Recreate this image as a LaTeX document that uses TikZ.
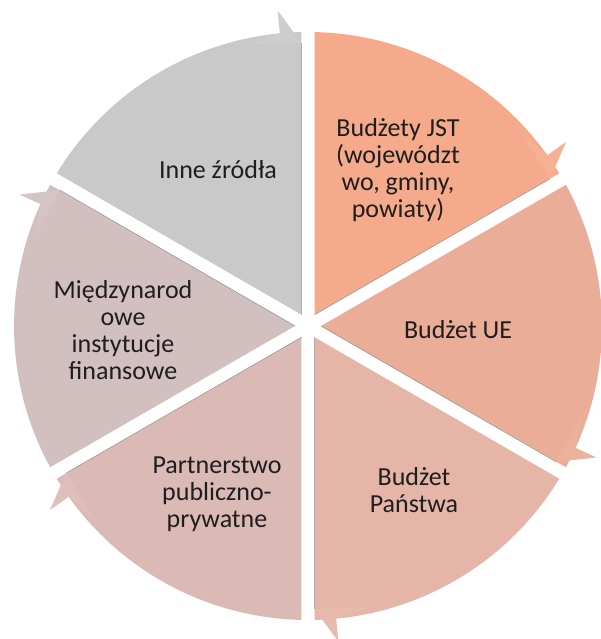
\documentclass[tikz,border=0pt]{standalone}
\usepackage{fontspec}
\setmainfont{Carlito}
\usetikzlibrary{calc}
\definecolor{segjst}{HTML}{F5AA8B}
\definecolor{segue}{HTML}{EAAD97}
\definecolor{segpanstwo}{HTML}{E5B5A8}
\definecolor{segppp}{HTML}{DBBAB5}
\definecolor{segmif}{HTML}{D2BFC0}
\definecolor{seginne}{HTML}{C9C9C9}
\definecolor{labeltext}{HTML}{1E1E1E}
\tikzset{
  seglabel/.style={align=center, text=labeltext, inner sep=0pt,
    font=\fontsize{26}{27}\selectfont},
  segedge/.style={draw=black!45, line width=0.5pt},
}
% one wedge with its arrow head at the clockwise end
\newcommand{\cyclesegment}[2]{%
  \pgfmathsetmacro{\segend}{#1-60}
  \pgfmathsetmacro{\segmid}{#1-30}
  \pgfmathsetmacro{\segstart}{#1-1.3}
  \pgfmathsetmacro{\segstop}{\segend+1.3}
  \pgfmathsetmacro{\segbarb}{\segend+5.5}
  \fill[#2] (\segmid:13) -- (\segstart:294)
    arc[start angle=\segstart, end angle=\segstop, radius=294] -- cycle;
  \fill[#2!93!white] (\segstop:283) -- (\segbarb:317) -- (\segbarb:294) -- (\segend+12:288) -- cycle;
  \draw[segedge] (\segstop:283) -- (\segmid:13);
}

\begin{document}
\begin{tikzpicture}[x=1pt, y=1pt]
\fill[white] (-308,-313) rectangle (292,326);
\useasboundingbox (-308,-313) rectangle (292,326);

\foreach \a/\c in {90/segjst, 30/segue, -30/segpanstwo, -90/segppp, -150/segmif, 150/seginne}
  \cyclesegment{\a}{\c};

\node[seglabel] (jst) at (90,156) {Budżety JST\\(województ\\wo, gminy,\\powiaty)};
\node[seglabel] (ue) at (150,-4) {Budżet UE};
\node[seglabel] (panstwo) at (106,-164) {Budżet\\Państwa};
\node[seglabel] (ppp) at (-91,-168) {Partnerstwo\\publiczno-\\prywatne};
\node[seglabel] (mif) at (-185,-4) {Międzynarod\\owe\\instytucje\\finansowe};
\node[seglabel] (inne) at (-90,156) {Inne źródła};
\end{tikzpicture}
\end{document}
